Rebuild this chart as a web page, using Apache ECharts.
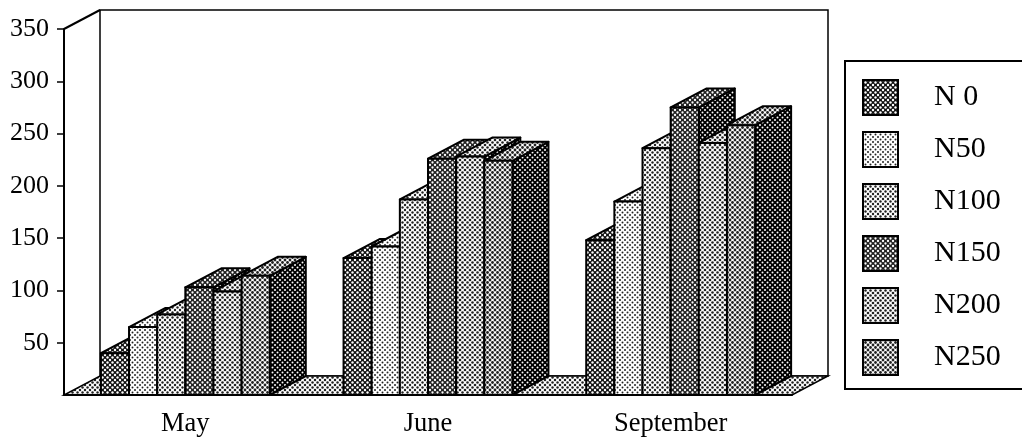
<!DOCTYPE html>
<html>
<head>
<meta charset="utf-8">
<title>Chart</title>
<style>
  html, body { margin: 0; padding: 0; background: #fff; }
  #chart { width: 1022px; height: 442px; }
</style>
</head>
<body>
<div id="chart"></div>
<script src="https://cdn.jsdelivr.net/npm/echarts@6/dist/echarts.min.js"></script>
<script>
const months = ['May', 'June', 'September']
const seriesNames = ['N 0', 'N50', 'N100', 'N150', 'N200', 'N250']
const n0 = [40, 131, 148]
const n50 = [65, 142, 185]
const n100 = [77, 187, 236]
const n150 = [103, 226, 275]
const n200 = [99, 228, 241]
const n250 = [114, 224, 258]
const seriesValues = [n0, n50, n100, n150, n200, n250]
const yTicks = [50, 100, 150, 200, 250, 300, 350]

const FONT = '"Liberation Serif", serif'
// 3d look of the box
const DEPTH_X = 36
const DEPTH_Y = -19
const BAR_RATIO = 0.116

// halftone fill, two dots per tile on a diagonal lattice
function halftone(dot, paper, radius) {
  const size = 5
  const c = document.createElement('canvas')
  c.width = size
  c.height = size
  const ctx = c.getContext('2d')
  ctx.fillStyle = paper
  ctx.fillRect(0, 0, size, size)
  ctx.fillStyle = dot
  const spots = [[0, 0], [size, 0], [0, size], [size, size], [size / 2, size / 2]]
  spots.forEach(s => {
    ctx.beginPath()
    ctx.arc(s[0], s[1], radius, 0, Math.PI * 2)
    ctx.fill()
  })
  return { image: c, repeat: 'repeat' }
}

const fills = [
  halftone('#fff', '#111', 1.2),
  halftone('#222', '#fff', 1.0),
  halftone('#222', '#fff', 1.2),
  halftone('#fff', '#222', 1.15),
  halftone('#222', '#fff', 1.3),
  halftone('#222', '#fff', 1.4)
]
const sideFill = halftone('#fff', '#000', 1.0)
const floorFill = halftone('#222', '#fff', 1.25)

function poly(points, fill) {
  return {
    type: 'polygon',
    shape: { points: points },
    style: { fill: fill, stroke: '#000', lineWidth: 2, lineJoin: 'round' }
  }
}

function renderFrame(params, api) {
  const half = api.size([1, 0])[0] / 2
  const first = api.coord([0, 0])
  const last = api.coord([months.length - 1, 0])
  const top = api.coord([0, 350])[1]
  const bl = [first[0] - half, first[1]]
  const br = [last[0] + half, last[1]]
  const tl = [bl[0], top]
  const tr = [br[0], top]
  const back = p => [p[0] + DEPTH_X, p[1] + DEPTH_Y]
  const children = [
    // back wall
    { type: 'polygon', shape: { points: [back(tl), back(tr), back(br), back(bl)] }, style: { fill: '#fff', stroke: '#000', lineWidth: 1.5 } },
    // floor
    { type: 'polygon', shape: { points: [bl, br, back(br), back(bl)] }, style: { fill: floorFill, stroke: '#000', lineWidth: 1.5 } },
    // left wall top edge
    { type: 'line', shape: { x1: tl[0], y1: tl[1], x2: back(tl)[0], y2: back(tl)[1] }, style: { stroke: '#000', lineWidth: 2 } }
  ]
  return { type: 'group', children: children }
}

function barRenderer(idx) {
  return function (params, api) {
    const cat = api.value(0)
    const base = api.coord([cat, 0])
    const top = api.coord([cat, api.value(1)])
    const w = api.size([1, 0])[0] * BAR_RATIO
    const x0 = base[0] + (idx - seriesNames.length / 2) * w
    const x1 = x0 + w
    const dx = DEPTH_X
    const dy = DEPTH_Y
    return {
      type: 'group',
      children: [
        poly([[x1, top[1]], [x1 + dx, top[1] + dy], [x1 + dx, base[1] + dy], [x1, base[1]]], sideFill),
        poly([[x0, top[1]], [x1, top[1]], [x1 + dx, top[1] + dy], [x0 + dx, top[1] + dy]], fills[idx]),
        poly([[x0, top[1]], [x1, top[1]], [x1, base[1]], [x0, base[1]]], fills[idx])
      ]
    }
  }
}

const barSeries = seriesNames.map((name, idx) => ({
  name: name,
  type: 'custom',
  z: 2,
  silent: true,
  renderItem: barRenderer(idx),
  itemStyle: { color: fills[idx], borderColor: '#000', borderWidth: 2 },
  encode: { x: 0, y: 1 },
  data: seriesValues[idx].map((v, i) => [i, v])
}))

const chart = echarts.init(document.getElementById('chart'), null, { renderer: 'canvas' })
chart.setOption({
  animation: false,
  backgroundColor: '#fff',
  textStyle: { fontFamily: FONT, color: '#000' },
  grid: { left: 64, right: 230, top: 29, bottom: 47 },
  legend: {
    data: seriesNames,
    orient: 'vertical',
    icon: 'rect',
    left: 845,
    top: 61,
    itemWidth: 35,
    itemHeight: 35,
    itemGap: 15,
    padding: [18, 60, 13, 17],
    borderColor: '#000',
    borderWidth: 2,
    selectedMode: false,
    textStyle: { fontFamily: FONT, fontSize: 30, color: '#000', padding: [0, 0, 0, 31] }
  },
  xAxis: {
    type: 'category',
    data: months,
    z: 3,
    axisTick: { show: false },
    axisLine: { lineStyle: { color: '#000', width: 2 } },
    axisLabel: { fontFamily: FONT, fontSize: 26.5, color: '#000', margin: 16 }
  },
  yAxis: {
    type: 'value',
    min: 0,
    max: 350,
    interval: 50,
    splitLine: { show: false },
    axisLine: { show: true, lineStyle: { color: '#000', width: 2 } },
    axisTick: { show: true, length: 7, customValues: yTicks, lineStyle: { color: '#000', width: 1.5 } },
    axisLabel: {
      fontFamily: FONT,
      fontSize: 26,
      color: '#000',
      margin: 15,
      customValues: yTicks
    }
  },
  series: [{
    type: 'custom',
    name: 'frame',
    z: 1,
    silent: true,
    renderItem: renderFrame,
    data: [[0, 0]]
  }].concat(barSeries)
})
</script>
</body>
</html>
